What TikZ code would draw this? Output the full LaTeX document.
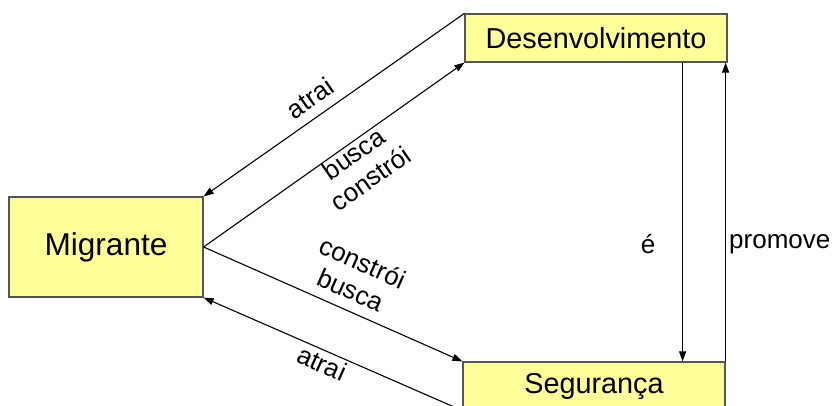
\documentclass[tikz,border=0pt]{standalone}
\usepackage{fontspec}
\setmainfont{Liberation Sans}
\usetikzlibrary{arrows.meta}
\definecolor{boxyellow}{HTML}{FFFF99}
\definecolor{boxedge}{HTML}{555555}
\begin{document}
\begin{tikzpicture}[x=1pt,y=-1pt,
  box/.style={draw=boxedge, line width=1.2pt, fill=boxyellow, inner sep=0pt},
  link/.style={line width=1.1pt, -{Triangle[length=10pt,width=7pt]}},
  lbl/.style={font=\fontsize{26}{30}\selectfont, inner sep=0pt, align=center}]
  \useasboundingbox (0,0) rectangle (833,405);
  \clip (0,0) rectangle (833,405);

  % concepts
  \node[box, minimum width=194pt, minimum height=100pt,
        font=\fontsize{31.6}{36}\selectfont] (mig) at (106,247) {Migrante};
  \node[box, minimum width=262pt, minimum height=48pt,
        font=\fontsize{28.8}{33}\selectfont] (dev) at (596,38) {Desenvolvimento};
  \node[box, minimum width=262pt, minimum height=48pt,
        font=\fontsize{28.8}{33}\selectfont] (seg) at (594,386) {Segurança};

  % relations
  \draw[link] (dev.north west) -- (mig.north east);
  \draw[link] (mig.east) -- (dev.south west);
  \draw[link] (mig.east) -- (seg.north west);
  \draw[link] (seg.south west) -- (mig.south east);
  \draw[link] ([xshift=-45pt]dev.south east) -- ([xshift=-45pt]dev.south east |- seg.north);
  \draw[link] (seg.north east) -- (seg.north east |- dev.south);

  % relation labels
  \node[lbl, rotate=35] (l1) at (310,98) {atrai};
  \node[lbl, rotate=35] (l2) at (362,166) {busca\\constrói};
  \node[lbl, rotate=-24] (l3) at (357,276) {constrói\\busca};
  \node[lbl, rotate=-24] (l4) at (322,363) {atrai};
  \node[lbl] (l5) at (648,244) {é};
  \node[lbl, anchor=west] (l6) at (729,244) {promove};
\end{tikzpicture}
\end{document}
